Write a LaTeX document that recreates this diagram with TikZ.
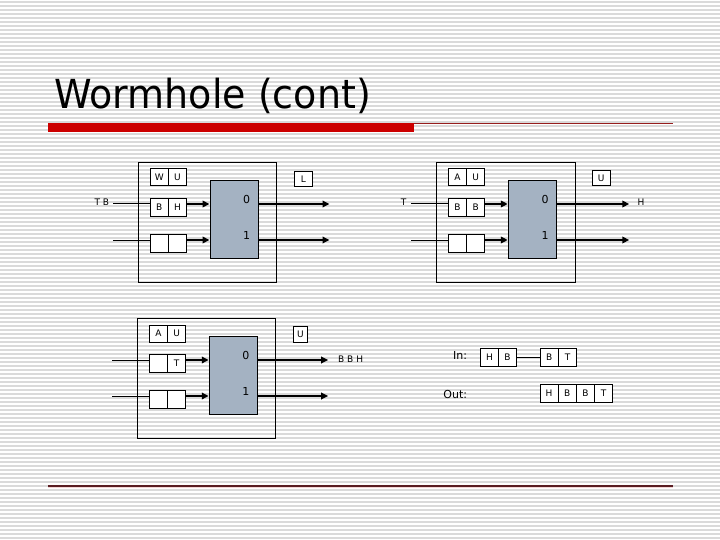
\documentclass[tikz,border=0pt]{standalone}
\usepackage{fontspec}
\setmainfont{DejaVu Sans}
\newfontfamily\titlefont{DejaVu Sans}
\usetikzlibrary{arrows.meta}
\definecolor{bgline}{RGB}{218,218,218}
\definecolor{blockgray}{RGB}{164,178,194}
\definecolor{barred}{RGB}{204,0,0}
\definecolor{thinred}{RGB}{150,30,30}
\definecolor{bottomline}{RGB}{90,30,35}
\definecolor{shadowpink}{RGB}{245,215,215}
\tikzset{
  bgl/.style={draw=bgline, line width=1.1pt},
  cell/.style={draw, fill=white, line width=1pt, inner sep=0pt,
    minimum width=18.2pt, minimum height=18.3pt, font=\fontsize{9}{10}\selectfont},
  outerbox/.style={draw, line width=1pt, inner sep=0pt},
  blockbox/.style={draw, fill=blockgray, line width=1pt, inner sep=0pt},
  regbox/.style={draw, fill=white, line width=1pt, inner sep=0pt, font=\fontsize{9}{10}\selectfont},
  wire/.style={line width=1pt},
  arr/.style={line width=2.3pt, -{Triangle[length=7pt,width=6.5pt]}},
  lbl/.style={font=\fontsize{9}{10}\selectfont, inner sep=0pt},
  biglbl/.style={font=\fontsize{11}{12}\selectfont, inner sep=0pt},
}
\newcommand{\wormblock}[6]{%
  \node[outerbox, minimum width=138.4pt, minimum height=120pt] (#1box) at (207.5,222.3) {};
  \node[cell, minimum height=17pt] (#1ta) at (159.2,177.5) {#2};
  \node[cell, minimum height=17pt] (#1tb) at (177.4,177.5) {#3};
  \node[cell] (#1ma) at (159.2,207.5) {#4};
  \node[cell] (#1mb) at (177.4,207.5) {#5};
  \node[cell] (#1la) at (159.2,243.2) {};
  \node[cell] (#1lb) at (177.4,243.2) {};
  \node[blockbox, minimum width=48.3pt, minimum height=78.3pt] (#1g) at (234.2,219.2) {};
  \node[biglbl] (#1z) at (246.7,199.5) {0};
  \node[biglbl] (#1o) at (246.7,235.7) {1};
  \coordinate (#1i0) at (113,204);
  \coordinate (#1i1) at (113,240);
  \coordinate (#1o0) at (#6,204);
  \coordinate (#1o1) at (#6,240);
  \draw[wire] (#1i0) -- (#1i0 -| #1ma.west);
  \draw[wire] (#1i1) -- (#1i1 -| #1la.west);
  \draw[arr] (#1i0 -| #1mb.east) -- (#1i0 -| #1g.west);
  \draw[arr] (#1i1 -| #1lb.east) -- (#1i1 -| #1g.west);
  \draw[arr] (#1i0 -| #1g.east) -- (#1o0);
  \draw[arr] (#1i1 -| #1g.east) -- (#1o1);
}
\begin{document}
\begin{tikzpicture}[x=1pt, y=-1pt]
\useasboundingbox (0,0) rectangle (720,540);
\fill[white] (0,0) rectangle (720,540);
\foreach \yy in {2,6,...,538} \draw[bgl] (0,\yy) -- (720,\yy);

% title and rules
\node[anchor=base west, inner sep=0pt, font=\titlefont\fontsize{40}{44}\selectfont] (title) at (54,108.3) {\scalebox{0.95}[1]{Wormhole (cont)}};
\fill[barred] (48,123.5) rectangle (414,132.5);
\draw[thinred, line width=0.8pt] (414,123.8) -- (673,123.8);
\draw[shadowpink, line width=1.3pt] (48,487.6) -- (672.5,487.6);
\draw[bottomline, line width=1.2pt] (48,486) -- (672.5,486);

% block 1
\wormblock{b1}{W}{U}{B}{H}{329.5}
% block 2
\begin{scope}[xshift=298.3pt]
\wormblock{b2}{A}{U}{B}{B}{331}
\end{scope}
% block 3
\begin{scope}[xshift=-0.8pt, yshift=-156pt]
\wormblock{b3}{A}{U}{}{T}{329}
\end{scope}

% registers
\node[regbox, minimum width=18pt, minimum height=14.5pt] (r1) at (303.3,178.8) {L};
\node[regbox, minimum width=17.7pt, minimum height=15pt] (r2) at (601.2,178.5) {U};
\node[regbox, minimum width=14pt, minimum height=15.6pt] (r3) at (300.3,334.5) {U};

% side labels
\node[lbl, anchor=east] (tb) at (109.3,202.5) {T B};
\node[lbl] (tlab) at (403.5,202) {T};
\node[lbl] (hlab) at (641,202) {H};
\node[lbl, anchor=west] (bbh) at (338,359) {B B H};

% In / Out
\node[biglbl, anchor=east] (inl) at (467.3,355.5) {In:};
\node[cell] (in1) at (489.5,357.5) {H};
\node[cell] (in2) at (507.5,357.5) {B};
\node[cell] (in3) at (549.2,357.5) {B};
\node[cell] (in4) at (567.5,357.5) {T};
\draw[wire] (in2.east) -- (in3.west);
\node[biglbl, anchor=east] (outl) at (467.3,394) {Out:};
\node[cell] (out1) at (549.1,393.5) {H};
\node[cell] (out2) at (567.3,393.5) {B};
\node[cell] (out3) at (585.5,393.5) {B};
\node[cell] (out4) at (603.7,393.5) {T};
\end{tikzpicture}
\end{document}
